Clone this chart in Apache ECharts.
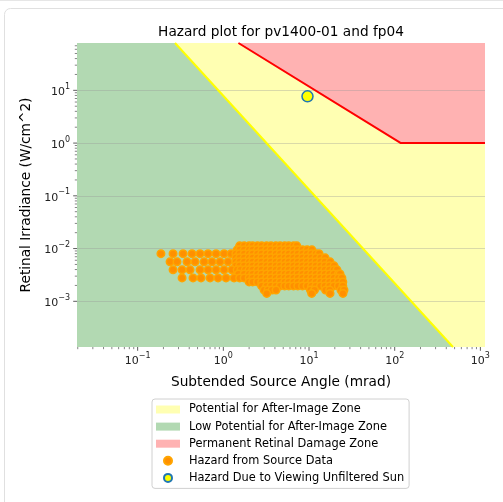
<!DOCTYPE html>
<html><head><meta charset="utf-8">
<script src="https://cdn.jsdelivr.net/npm/echarts@6/dist/echarts.min.js"></script>
<style>html,body{margin:0;padding:0;background:#fff}#c{width:503px;height:502px}</style>
</head><body><div id="c"></div>
<script>
// axis extents and tick labels
const xMin = 0.0196, xMax = 1132, yMin = 0.000136, yMax = 79;
const xTicks = [0.1, 1, 10, 100, 1000];
const yTicks = [0.001, 0.01, 0.1, 1, 10];

// zone boundaries
const afterImageAngle = [0.273, 479];
const afterImageIrr = [79, 0.000136];
const damageAngle = [1.5, 118, 1132];
const damageIrr = [79, 1, 1];

// sun
const sunAngle = [9.6];
const sunIrr = [7.7];

// source data: irradiance level of each row and the angles read along it
const sourceIrrLevels = [0.01125, 0.00945, 0.0080, 0.00666, 0.0056, 0.0047, 0.00395, 0.00331, 0.00278, 0.00233, 0.00196, 0.00164, 0.00141];
const sourceAngles = [
  [1.55,1.75,2,2.2,2.5,2.8,3.2,3.6,4.1,4.6,5.2,5.8,6.6,7.2],
  [1.45,1.55,1.75,2,2.2,2.5,2.8,3.2,3.6,4.1,4.6,5.2,5.8,6.6,7.4,8.4,9.5,10.8],
  [0.187,0.259,0.339,0.431,0.535,0.663,0.822,1.02,1.23,1.4,1.55,1.75,2,2.2,2.5,2.8,3.2,3.6,4.1,4.6,5.2,5.8,6.6,7.4,8.4,9.5,10.7,12,13.1],
  [1.4,1.55,1.75,2,2.2,2.5,2.8,3.2,3.6,4.1,4.6,5.2,5.8,6.6,7.4,8.4,9.5,10.7,12,13.6,15.4],
  [0.239,0.288,0.377,0.468,0.596,0.738,0.915,1.135,1.4,1.55,1.75,2,2.2,2.5,2.8,3.2,3.6,4.1,4.6,5.2,5.8,6.6,7.4,8.4,9.5,10.7,12,13.6,15.3,17.6],
  [1.4,1.55,1.75,2,2.2,2.5,2.8,3.2,3.6,4.1,4.6,5.2,5.8,6.6,7.4,8.4,9.5,10.7,12,13.6,15.3,17.3,19.6],
  [0.259,0.33,0.409,0.535,0.663,0.822,1.02,1.26,1.45,1.6,1.8,2,2.2,2.5,2.8,3.2,3.6,4.1,4.6,5.2,5.8,6.6,7.4,8.4,9.5,10.7,12,13.6,15.3,17.3,19.5,21.2],
  [1.5,1.75,2,2.2,2.5,2.8,3.2,3.6,4.1,4.6,5.2,5.8,6.6,7.4,8.4,9.5,10.7,12,13.6,15.3,17.3,19.5,22,23],
  [0.33,0.443,0.549,0.7,0.867,1.075,1.333,1.55,1.75,2,2.2,2.5,2.8,3.2,3.6,4.1,4.6,5.2,5.8,6.6,7.4,8.4,9.5,10.7,12,13.6,15.3,17.3,19.5,22,24.2],
  [2,2.2,2.5,2.8,3.2,3.6,4.1,4.6,5.2,5.8,6.6,7.4,8.4,9.5,10.7,12,13.6,15.3,17.3,19.5,22,24.8],
  [2.8,3.2,3.6,4.1,4.6,5.2,5.8,6.6,7.4,8.4,9.5,10.7,12,13.6,15.3,17.3,19.5,22,24.8],
  [2.99,3.32,3.7,4.12,10.4,11.6,15.6,17.4,23.6,25.6],
  [3.21,10.75,17.6,24.9]
];

const names = {
  yellow: 'Potential for After-Image Zone',
  green: 'Low Potential for After-Image Zone',
  red: 'Permanent Retinal Damage Zone',
  src: 'Hazard from Source Data',
  sun: 'Hazard Due to Viewing Unfiltered Sun'
};

const sourceData = [];
sourceAngles.forEach((row, i) => row.forEach(a => sourceData.push([a, sourceIrrLevels[i]])));

const greenPoly = [[xMin, yMax], [afterImageAngle[0], afterImageIrr[0]], [afterImageAngle[1], afterImageIrr[1]], [xMin, yMin]];
const yellowPoly = [[afterImageAngle[0], afterImageIrr[0]], [damageAngle[0], damageIrr[0]], [damageAngle[1], damageIrr[1]], [damageAngle[2], damageIrr[2]], [xMax, yMin], [afterImageAngle[1], afterImageIrr[1]]];
const redPoly = [[damageAngle[0], damageIrr[0]], [xMax, yMax], [damageAngle[2], damageIrr[2]], [damageAngle[1], damageIrr[1]]];

function zone(name, color, pts) {
  return {
    type: 'custom', name, clip: true, silent: true, z: 1,
    itemStyle: { color },
    data: [[xMin, yMin]],
    renderItem: (params, api) => ({
      type: 'polygon',
      shape: { points: pts.map(p => api.coord(p)) },
      style: { fill: color }
    })
  };
}

// tick marks (major + minor), matplotlib style
function minorVals(lo, hi) {
  const out = [];
  for (let e = -3; e <= 3; e++) for (let m = 2; m <= 9; m++) {
    const v = m * Math.pow(10, e);
    if (v > lo && v < hi) out.push(v);
  }
  return out;
}
function ticks(values, axis, len, w) {
  return {
    type: 'custom', silent: true, clip: false, z: 10,
    data: values.map(v => axis === 'x' ? [v, yMin] : [xMin, v]),
    renderItem: (params, api) => {
      const p = api.coord([api.value(0), api.value(1)]);
      const shape = axis === 'x'
        ? { x1: p[0], y1: p[1], x2: p[0], y2: p[1] + len }
        : { x1: p[0], y1: p[1], x2: p[0] - len, y2: p[1] };
      return { type: 'line', shape, style: { stroke: '#333', lineWidth: w } };
    }
  };
}

function fmt(v) {
  const l = Math.log10(v), n = Math.round(l);
  if (Math.abs(l - n) > 1e-6) return '';
  return '{b|10}{s|' + (n < 0 ? '\u2212' + (-n) : n) + '}';
}
const rich = {
  b: { fontSize: 11, color: '#222', fontFamily: 'DejaVu Sans', verticalAlign: 'bottom', lineHeight: 15 },
  s: { fontSize: 8, color: '#222', fontFamily: 'DejaVu Sans', verticalAlign: 'top', lineHeight: 15 }
};

const chart = echarts.init(document.getElementById('c'), null, { renderer: 'canvas' });
chart.setOption({
  animation: false,
  backgroundColor: '#fff',
  textStyle: { fontFamily: 'DejaVu Sans' },
  graphic: [
    { type: 'line', shape: { x1: 0, y1: 0.5, x2: 503, y2: 0.5 }, style: { stroke: '#e6e6e6', lineWidth: 1 }, z: 100 },
    { type: 'rect', shape: { x: 4.5, y: 8.5, width: 530, height: 530, r: 6 }, style: { fill: 'none', stroke: '#e0e0e0', lineWidth: 1 }, z: 100 }
  ],
  title: {
    text: 'Hazard plot for pv1400-01 and fp04',
    left: 281, top: 25, textAlign: 'center', padding: 0,
    textStyle: { fontSize: 13.7, fontWeight: 'normal', color: '#000', fontFamily: 'DejaVu Sans' }
  },
  grid: { left: 77, right: 18, top: 43, bottom: 155, containLabel: false },
  legend: {
    orient: 'vertical', left: 152, top: 399,
    itemWidth: 24, itemHeight: 8, itemGap: 6.1,
    padding: [5, 5, 5, 4],
    backgroundColor: 'rgba(255,255,255,0.8)', borderColor: '#d0d0d0', borderWidth: 1, borderRadius: 3,
    textStyle: { fontSize: 11.4, color: '#000', fontFamily: 'DejaVu Sans', padding: [0, 0, 0, 4] },
    data: [
      { name: names.yellow, icon: 'rect' },
      { name: names.green, icon: 'rect' },
      { name: names.red, icon: 'rect' },
      { name: names.src, icon: 'circle' },
      { name: names.sun, icon: 'circle' }
    ],
    selectedMode: false
  },
  xAxis: {
    type: 'log', logBase: 10, min: xMin, max: xMax,
    name: 'Subtended Source Angle (mrad)', nameLocation: 'middle', nameGap: 28,
    nameTextStyle: { fontSize: 13.7, color: '#000', fontFamily: 'DejaVu Sans' },
    axisLine: { show: false }, axisTick: { show: false },
    axisLabel: { formatter: fmt, rich, margin: 5, showMinLabel: false, showMaxLabel: false },
    splitLine: { show: false }
  },
  yAxis: {
    type: 'log', logBase: 10, min: yMin, max: yMax, z: 2,
    name: 'Retinal Irradiance (W/cm^2)', nameLocation: 'middle', nameGap: 41,
    nameTextStyle: { fontSize: 13.7, color: '#000', fontFamily: 'DejaVu Sans' },
    axisLine: { show: false }, axisTick: { show: false },
    axisLabel: { formatter: fmt, rich, margin: 7, showMinLabel: false, showMaxLabel: false },
    splitLine: { show: true, showMinLine: false, showMaxLine: false, lineStyle: { color: 'rgba(150,150,150,0.45)', width: 0.8 } }
  },
  series: [
    zone(names.green, 'rgba(0,128,0,0.3)', greenPoly),
    zone(names.yellow, 'rgba(255,255,0,0.3)', yellowPoly),
    zone(names.red, 'rgba(255,0,0,0.3)', redPoly),
    {
      type: 'line', silent: true, z: 3, symbol: 'none',
      data: afterImageAngle.map((a, i) => [a, afterImageIrr[i]]),
      lineStyle: { color: '#ffff00', width: 2 }
    },
    {
      type: 'line', silent: true, z: 3, symbol: 'none',
      data: damageAngle.map((a, i) => [a, damageIrr[i]]),
      lineStyle: { color: '#ff0000', width: 2 }
    },
    {
      type: 'scatter', name: names.src, z: 4, symbol: 'circle', symbolSize: 7.5,
      data: sourceData, silent: true,
      itemStyle: { color: '#ff9000', borderColor: '#ffa500', borderWidth: 1.5, opacity: 1 }
    },
    {
      type: 'scatter', name: names.sun, z: 5, symbol: 'circle', symbolSize: 11,
      data: sunAngle.map((a, i) => [a, sunIrr[i]]), silent: true,
      itemStyle: { color: '#ffff00', borderColor: '#1f77b4', borderWidth: 1.5, opacity: 1 }
    },
    ticks(xTicks, 'x', 3.8, 0.8),
    ticks(minorVals(xMin, xMax), 'x', 2.2, 0.6),
    ticks(yTicks, 'y', 3.8, 0.8),
    ticks(minorVals(yMin, yMax), 'y', 2.2, 0.6)
  ]
});
</script>
</body></html>
